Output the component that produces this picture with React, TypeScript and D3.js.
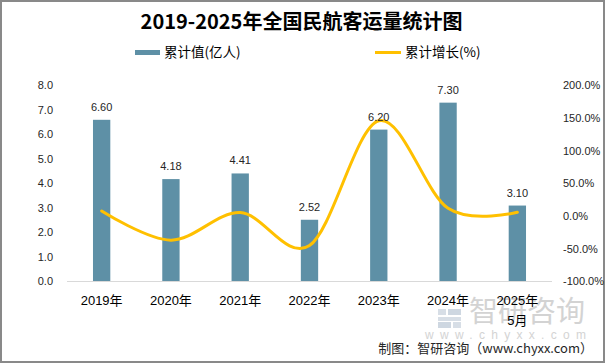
import React from "react";
import * as d3 from "d3";

const categories = ["2019年", "2020年", "2021年", "2022年", "2023年", "2024年", "2025年5月"];
const volumes = [6.6, 4.18, 4.41, 2.52, 6.2, 7.3, 3.1];
const growth = [7.9, -36.7, 5.5, -45, 146, 12, 6];
const leftTicks = [0, 1, 2, 3, 4, 5, 6, 7, 8];
const rightTicks = [-100, -50, 0, 50, 100, 150, 200];
const seriesNames = ["累计值(亿人)", "累计增长(%)"];
const title = "2019-2025年全国民航客运量统计图";
const footer = "制图：智研咨询（www.chyxx.com）";

const W = 605;
const H = 363;
const FONT = "'Liberation Sans', 'Noto Sans CJK SC', sans-serif";
const CJK = "'Noto Sans CJK SC', 'Liberation Sans', sans-serif";
const BAR = "#5E90A6";
const LINE = "#FFC000";

export default function App() {
  const x = d3.scaleBand<string>().domain(categories).range([67, 552]).padding(0);
  const yL = d3.scaleLinear().domain([0, 8]).range([281.5, 85.5]);
  const yR = d3.scaleLinear().domain([-100, 200]).range([281.5, 85.5]);
  const bw = x.bandwidth() * 0.25;
  const cx = (c: string) => (x(c) as number) + x.bandwidth() / 2;

  const line = d3
    .line<number>()
    .x((_, i) => cx(categories[i]))
    .y((d) => yR(d))
    .curve(d3.curveCardinal.tension(0));

  const splitLabel = (s: string) => {
    const m = s.match(/^(\d+年)(.*)$/);
    return m && m[2] ? [m[1], m[2]] : [s];
  };

  return (
    <svg
      width={W}
      height={H}
      style={{ position: "absolute", left: 0, top: 0, background: "#fff" }}
      fontFamily={FONT}
    >
      <rect x={1} y={1} width={W - 2} height={H - 2} fill="#fff" stroke="#898989" strokeWidth={2} />

      {/* watermark */}
      <g opacity={0.9}>
        <rect x={438} y={309} width={8} height={6} fill="#d3dbe4" />
        <rect x={448} y={309} width={13} height={6} fill="#c9d3de" />
        <rect x={438} y={317} width={23} height={4} fill="#d3dbe4" />
        <rect x={438} y={322} width={13} height={6} fill="#c9d3de" />
        <rect x={453} y={322} width={8} height={6} fill="#d3dbe4" />
        <text x={469} y={322} fontFamily={CJK} fontSize={29} fill="#cfcfcf" textLength={116} lengthAdjust="spacing">
          智研咨询
        </text>
        <text x={425} y={339} fontSize={12} fill="#cfcfcf" textLength={161} lengthAdjust="spacing">
          www.chyxx.com
        </text>
      </g>

      {/* title */}
      <text x={301.5} y={29} textAnchor="middle" fontFamily={CJK} fontWeight="bold" fontSize={20} fill="#000">
        {title}
      </text>

      {/* legend */}
      <rect x={135} y={50} width={25} height={5} fill={BAR} />
      <text x={164} y={57} fontFamily={CJK} fontSize={13.5} fill="#000">
        {seriesNames[0]}
      </text>
      <line x1={375} x2={401} y1={52.5} y2={52.5} stroke={LINE} strokeWidth={3} />
      <text x={405} y={57} fontFamily={CJK} fontSize={13.5} fill="#000">
        {seriesNames[1]}
      </text>

      {/* left axis ticks */}
      {leftTicks.map((t) => (
        <text key={"l" + t} x={53} y={yL(t)} dy="0.35em" textAnchor="end" fontSize={11} fill="#262626">
          {t.toFixed(1)}
        </text>
      ))}
      {/* right axis ticks */}
      {rightTicks.map((t) => (
        <text key={"r" + t} x={563} y={yR(t)} dy="0.35em" textAnchor="start" fontSize={11} fill="#262626">
          {t.toFixed(1) + "%"}
        </text>
      ))}

      {/* bars */}
      {categories.map((c, i) => (
        <rect
          key={"b" + c}
          x={cx(c) - bw / 2}
          y={yL(volumes[i])}
          width={bw}
          height={yL(0) - yL(volumes[i])}
          fill={BAR}
        />
      ))}

      {/* x axis line */}
      <line x1={67} x2={552} y1={281.5} y2={281.5} stroke="#d9d9d9" strokeWidth={1} />

      {/* x labels */}
      {categories.map((c) => (
        <text key={"x" + c} x={cx(c)} y={305} textAnchor="middle" fontSize={13} fill="#000">
          {splitLabel(c).map((s, j) => (
            <tspan key={j} x={cx(c)} dy={j === 0 ? 0 : 20}>
              {s}
            </tspan>
          ))}
        </text>
      ))}

      {/* growth line */}
      <path d={line(growth) || ""} fill="none" stroke={LINE} strokeWidth={3} strokeLinecap="round" />

      {/* data labels */}
      {categories.map((c, i) => (
        <text key={"d" + c} x={cx(c)} y={yL(volumes[i]) - 9} textAnchor="middle" fontSize={11} fill="#262626">
          {volumes[i].toFixed(2)}
        </text>
      ))}

      {/* footer */}
      <text x={593} y={353} textAnchor="end" fontFamily={CJK} fontSize={13} fill="#262626">
        {footer}
      </text>
    </svg>
  );
}
